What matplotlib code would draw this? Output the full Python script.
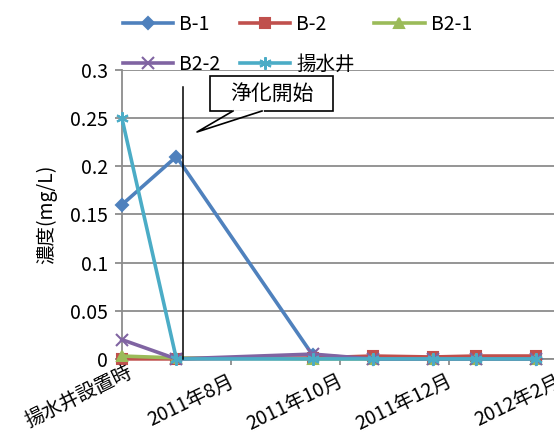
import matplotlib
matplotlib.use("Agg")
import matplotlib.pyplot as plt
from matplotlib.lines import Line2D
from matplotlib.patches import Rectangle

plt.rcParams['font.family'] = ['Noto Sans CJK JP', 'DejaVu Sans']

# 月数 (2011年6月 = 0)
x_pos = [0.0, 1.0, 3.5, 4.6, 5.7, 6.5, 7.6]

b1 = [0.16, 0.21, 0.004, 0.0, 0.0, 0.0, 0.0]
b2 = [0.0, 0.0, 0.001, 0.003, 0.002, 0.003, 0.003]
b21 = [0.003, 0.001, 0.0, 0.0, 0.0, 0.0, 0.0]
b22 = [0.02, 0.0, 0.005, 0.0, 0.0, 0.0, 0.0]
well = [0.25, 0.0, 0.0, 0.0, 0.0, 0.0, 0.0]

tick_pos = [0, 2, 4, 6, 8]
tick_labels = ['揚水井設置時', '2011年8月', '2011年10月', '2011年12月', '2012年2月']
start_x = 1.12  # 浄化開始

fig = plt.figure(figsize=(5.54, 4.34), dpi=100)
ax = fig.add_axes([0.22, 0.173, 0.79, 0.666])

series = [
    ('B-1', b1, '#4F81BD', 'D', 6),
    ('B-2', b2, '#C0504D', 's', 7),
    ('B2-1', b21, '#9BBB59', '^', 7),
    ('B2-2', b22, '#8064A2', 'x', 8),
    ('揚水井', well, '#4BACC6', (6, 2, 0), 9),
]
lines = {}
for name, vals, col, mk, ms in series:
    ln, = ax.plot(x_pos, vals, color=col, lw=2.6, marker=mk, ms=ms,
                  mec=col, mew=1.5, label=name, clip_on=False, zorder=3)
    lines[name] = ln

ax.plot([start_x, start_x], [0, 0.282], color='black', lw=1.1, zorder=4,
        clip_on=False)

ax.set_xlim(0, 8.03)
ax.set_ylim(0, 0.3)
ax.set_yticks([0, 0.05, 0.1, 0.15, 0.2, 0.25, 0.3])
ax.set_yticklabels(['0', '0.05', '0.1', '0.15', '0.2', '0.25', '0.3'])
ax.yaxis.grid(True, color='#8c8c8c', lw=1.3)
ax.set_axisbelow(True)
for s in ['top', 'right']:
    ax.spines[s].set_visible(False)
for s in ['left', 'bottom']:
    ax.spines[s].set_color('#8c8c8c')
    ax.spines[s].set_linewidth(1.3)
ax.tick_params(axis='y', colors='#8c8c8c', labelcolor='black', length=5,
               width=1.3, labelsize=14, pad=5)
ax.set_xticks(tick_pos)
ax.set_xticklabels([])
ax.tick_params(axis='x', colors='#8c8c8c', length=4, width=1.3)

for i, (p, lab) in enumerate(zip(tick_pos, tick_labels)):
    dy = -0.01 if i == 0 else -0.04
    dx = 0.08 if i == 0 else -0.05
    ax.text(p + dx, dy, lab, transform=ax.get_xaxis_transform(),
            rotation=26, rotation_mode='anchor', ha='right', va='top',
            fontsize=14, clip_on=False)

ax.set_ylabel('濃度(mg/L)', fontsize=14, labelpad=9)

# 吹き出し
box_l, box_r, box_t, box_b = 210, 333, 76, 111
fig.add_artist(Rectangle((box_l / 554, 1 - box_b / 434),
                         (box_r - box_l) / 554, (box_b - box_t) / 434,
                         transform=fig.transFigure, fc='white', ec='black',
                         lw=1.2, zorder=9))
fig.text((box_l + box_r) / 2 / 554, 1 - (box_t + box_b) / 2 / 434, '浄化開始',
         ha='center', va='center', fontsize=15, zorder=12)
tail_x = [233 / 554, 197 / 554, 262 / 554]
tail_y = [1 - box_b / 434, 1 - 132 / 434, 1 - box_b / 434]
fig.add_artist(Line2D([tail_x[0], tail_x[2]], [tail_y[0], tail_y[2]],
                      color='white', lw=2.0, zorder=10))
fig.add_artist(Line2D(tail_x, tail_y, color='black', lw=1.2, zorder=11))

order = ['B-1', 'B2-2', 'B-2', '揚水井', 'B2-1']
fig.legend([lines[k] for k in order], order, loc='upper left',
           bbox_to_anchor=(0.19, 1.008), ncol=3,
           frameon=False, fontsize=14, handlelength=2.6, handletextpad=0.3,
           columnspacing=1.0, labelspacing=0.95)

fig.savefig('out.png', dpi=100)
